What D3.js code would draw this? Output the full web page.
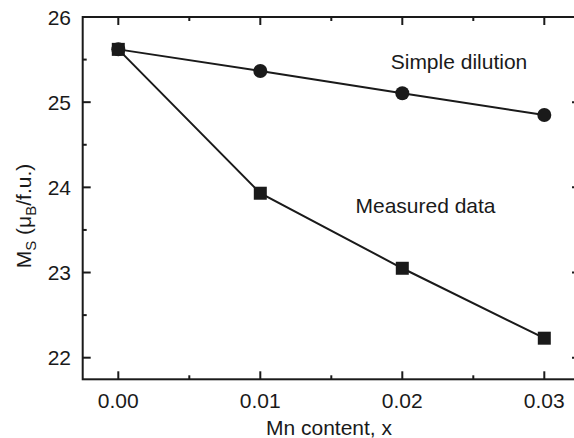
<!DOCTYPE html>
<html><head><meta charset="utf-8">
<script src="https://cdn.jsdelivr.net/npm/d3@7"></script>
<style>body{margin:0;background:#fff;overflow:hidden}svg{display:block}text{font-family:"Liberation Sans",Arial,sans-serif;fill:#1a1a1a}</style>
</head><body>
<svg id="c" width="574" height="438"></svg>
<script>
const xValues = [0.00, 0.01, 0.02, 0.03];
const simpleDilution = [25.62, 25.366, 25.104, 24.85];
const measuredData = [25.62, 23.931, 23.05, 22.229];
const xTicks = [0.00, 0.01, 0.02, 0.03];
const xMinorTicks = [0.005, 0.015, 0.025];
const yTicks = [22, 23, 24, 25, 26];
const yMinorTicks = [22.5, 23.5, 24.5, 25.5];
const seriesLabels = ["Simple dilution", "Measured data"];

const svg = d3.select("#c");
const L = 82.7, R = 580, T = 17, B = 379.3;
const x = d3.scaleLinear().domain([0, 0.03]).range([118.3, 544.3]);
const y = d3.scaleLinear().domain([22, 26]).range([357.7, 17]);
const col = "#1a1a1a";
const fs = 21;

const g = svg.append("g");
g.append("rect").attr("x", L).attr("y", T).attr("width", R - L).attr("height", B - T)
  .attr("fill", "none").attr("stroke", col).attr("stroke-width", 2);

function xt(vals, len, yy, dir) {
  g.selectAll(null).data(vals).enter().append("line")
    .attr("x1", d => x(d)).attr("x2", d => x(d))
    .attr("y1", yy).attr("y2", yy + dir * len)
    .attr("stroke", col).attr("stroke-width", 2);
}
function yt(vals, len, xx, dir) {
  g.selectAll(null).data(vals).enter().append("line")
    .attr("y1", d => y(d)).attr("y2", d => y(d))
    .attr("x1", xx).attr("x2", xx + dir * len)
    .attr("stroke", col).attr("stroke-width", 2);
}
xt(xTicks, 8, B, -1); xt(xMinorTicks, 4, B, -1);
xt(xTicks, 8, T, 1); xt(xMinorTicks, 4, T, 1);
yt(yTicks, 8, L, 1); yt(yMinorTicks, 4, L, 1);
yt(yTicks, 8, R, -1); yt(yMinorTicks, 4, R, -1);

g.selectAll(null).data(xTicks).enter().append("text")
  .attr("x", d => x(d)).attr("y", 408).attr("text-anchor", "middle")
  .attr("font-size", fs).text(d => d3.format(".2f")(d));
g.selectAll(null).data(yTicks).enter().append("text")
  .attr("x", 71).attr("y", d => y(d) + 7.5).attr("text-anchor", "end")
  .attr("font-size", fs).text(d => d);

g.append("text").attr("x", 329).attr("y", 435).attr("text-anchor", "middle")
  .attr("font-size", fs).text("Mn content, x");
const yl = g.append("text").attr("transform", "translate(31,216) rotate(-90)")
  .attr("text-anchor", "middle").attr("font-size", fs);
yl.append("tspan").text("M");
yl.append("tspan").attr("font-size", 15).attr("dy", 5).text("S");
yl.append("tspan").attr("dy", -5).text(" (\u03bc");
yl.append("tspan").attr("font-size", 15).attr("dy", 5).text("B");
yl.append("tspan").attr("dy", -5).text("/f.u.)");

const line = d3.line().x((d, i) => x(xValues[i])).y(d => y(d));
g.append("path").datum(simpleDilution).attr("d", line).attr("fill", "none").attr("stroke", col).attr("stroke-width", 2);
g.append("path").datum(measuredData).attr("d", line).attr("fill", "none").attr("stroke", col).attr("stroke-width", 2);

g.selectAll(null).data(measuredData).enter().append("rect")
  .attr("x", (d, i) => x(xValues[i]) - 6.5).attr("y", d => y(d) - 6.5)
  .attr("width", 13).attr("height", 13).attr("fill", col);
g.selectAll(null).data(simpleDilution).enter().append("circle")
  .attr("cx", (d, i) => x(xValues[i])).attr("cy", d => y(d)).attr("r", 7).attr("fill", col);

g.append("text").attr("x", 459).attr("y", 69).attr("text-anchor", "middle").attr("font-size", fs).text(seriesLabels[0]);
g.append("text").attr("x", 425.5).attr("y", 213).attr("text-anchor", "middle").attr("font-size", fs).text(seriesLabels[1]);
</script>
</body></html>
